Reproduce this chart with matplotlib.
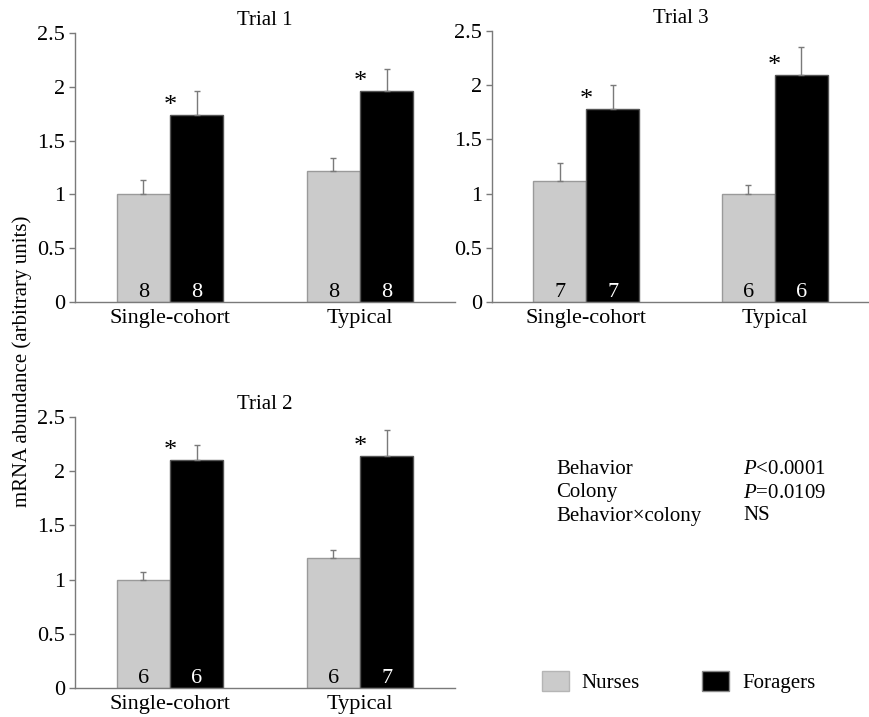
import numpy as np
import matplotlib
matplotlib.use('Agg')
import matplotlib.pyplot as plt
from matplotlib.ticker import FormatStrFormatter

plt.rcParams['font.family'] = ['Liberation Serif', 'DejaVu Serif']
plt.rcParams['mathtext.fontset'] = 'custom'
plt.rcParams['mathtext.it'] = 'Liberation Serif:italic'
plt.rcParams['mathtext.rm'] = 'Liberation Serif'

# data
colonies = ["Single-cohort", "Typical"]
trials = ["Trial 1", "Trial 3", "Trial 2"]

nurse_mean = [[1.00, 1.22], [1.12, 1.00], [1.00, 1.20]]
nurse_err = [[0.13, 0.12], [0.16, 0.08], [0.07, 0.07]]
forager_mean = [[1.74, 1.96], [1.78, 2.09], [2.10, 2.14]]
forager_err = [[0.22, 0.21], [0.22, 0.26], [0.14, 0.24]]
nurse_n = [[8, 8], [7, 6], [6, 6]]
forager_n = [[8, 8], [7, 6], [6, 7]]

stat_terms = ["Behavior", "Colony", "Behavior\u00d7colony"]
stat_values = [r"$P$<0.0001", r"$P$=0.0109", "NS"]

NURSE_C = "#cbcbcb"
FORAGER_C = "#000000"
GREY = "#7a7a7a"
FS = 15
TICK_FS = 16

W, H = 869, 717
fig = plt.figure(figsize=(W / 100, H / 100), dpi=100)

# axes boxes in pixels: left, top, right, bottom
boxes = [(75, 33, 455, 302), (492, 31, 869, 302), (75, 417, 455, 688)]

x = np.arange(len(colonies))
bw = 0.28

for i, (l, t, r, b) in enumerate(boxes):
    ax = fig.add_axes([l / W, 1 - b / H, (r - l) / W, (b - t) / H])
    ax.bar(x - bw / 2, nurse_mean[i], bw, color=NURSE_C, edgecolor="#9a9a9a", linewidth=1,
           yerr=[np.zeros(2), nurse_err[i]], error_kw=dict(ecolor=GREY, elinewidth=1, capsize=2.5, capthick=1),
           zorder=2)
    ax.bar(x + bw / 2, forager_mean[i], bw, color=FORAGER_C, edgecolor="#555555", linewidth=1,
           yerr=[np.zeros(2), forager_err[i]], error_kw=dict(ecolor=GREY, elinewidth=1, capsize=2.5, capthick=1),
           zorder=2)
    for j in range(len(colonies)):
        ax.text(x[j] - bw / 2, 0.05, str(nurse_n[i][j]), ha="center", va="baseline",
                fontsize=TICK_FS, color="black", zorder=3)
        ax.text(x[j] + bw / 2, 0.05, str(forager_n[i][j]), ha="center", va="baseline",
                fontsize=TICK_FS, color="white", zorder=3)
        ax.text(x[j], forager_mean[i][j] + 0.03, "*", ha="center", va="baseline",
                fontsize=19, color="black")
    ax.set_xlim(-0.5, 1.5)
    ax.set_ylim(0, 2.5)
    ax.set_yticks([0, 0.5, 1, 1.5, 2, 2.5])
    ax.yaxis.set_major_formatter(FormatStrFormatter('%g'))
    ax.set_xticks(x)
    ax.set_xticklabels(colonies)
    ax.tick_params(axis='x', length=0, pad=5, labelsize=TICK_FS)
    ax.tick_params(axis='y', length=4, width=1, color=GREY, pad=3, labelsize=TICK_FS)
    for s in ["top", "right"]:
        ax.spines[s].set_visible(False)
    for s in ["left", "bottom"]:
        ax.spines[s].set_color(GREY)
        ax.spines[s].set_linewidth(1)
    ax.set_title(trials[i], fontsize=FS, pad=6)

fig.text(22 / W, 1 - 361 / H, "mRNA abundance (arbitrary units)", rotation=90,
         ha="center", va="center", fontsize=FS)

row_y = [469, 493, 516]
for term, val, yy in zip(stat_terms, stat_values, row_y):
    fig.text(556 / W, 1 - yy / H, term, ha="left", va="center", fontsize=FS)
    fig.text(743 / W, 1 - yy / H, val, ha="left", va="center", fontsize=FS)

handles = [plt.Rectangle((0, 0), 1, 1, facecolor=NURSE_C, edgecolor="#b5b5b5"),
           plt.Rectangle((0, 0), 1, 1, facecolor=FORAGER_C, edgecolor="#888888")]
fig.legend(handles, ["Nurses", "Foragers"], loc="center left",
           bbox_to_anchor=(542 / W, 1 - 682 / H), ncol=2, frameon=False,
           fontsize=FS, handlelength=1.3, handleheight=1.15, handletextpad=0.6,
           columnspacing=3.0, borderaxespad=0, borderpad=0)

fig.savefig("out.png", dpi=100)
